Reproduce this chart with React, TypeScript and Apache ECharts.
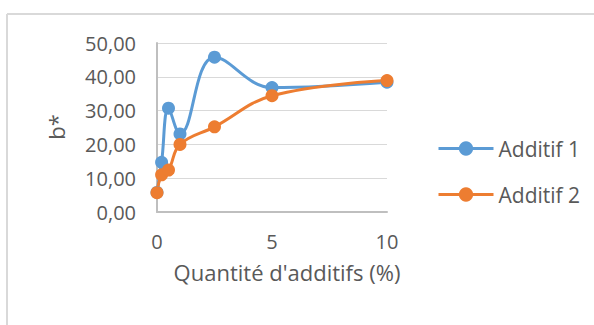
import React, { useEffect, useRef } from "react";
import * as echarts from "echarts";

const xValues = [0, 0.2, 0.5, 1, 2.5, 5, 10];
const additif1 = [5.8, 14.7, 30.7, 23.1, 45.8, 36.8, 38.4];
const additif2 = [5.7, 11.0, 12.4, 20.0, 25.2, 34.4, 38.9];
const seriesNames = ["Additif 1", "Additif 2"];
const xTitle = "Quantité d'additifs (%)";
const yTitle = "b*";

const FONT = "'Open Sans', 'Noto Sans', sans-serif";
const GREY = "#595959";

export default function App() {
  const ref = useRef<HTMLDivElement>(null);
  useEffect(() => {
    document.body.style.margin = "0";
    const chart = echarts.init(ref.current!, null, { renderer: "svg" });
    const mk = (vals: number[]) => xValues.map((x, i) => [x, vals[i]]);
    chart.setOption({
      animation: false,
      backgroundColor: "#ffffff",
      textStyle: { fontFamily: FONT },
      grid: { left: 157, right: 207, top: 43, bottom: 113 },
      xAxis: {
        type: "value",
        min: 0,
        max: 10,
        interval: 5,
        splitLine: { show: false },
        axisTick: { show: false },
        axisLine: { show: true, lineStyle: { color: "#bfbfbf", width: 2 } },
        axisLabel: { color: GREY, fontSize: 20, fontFamily: FONT, margin: 19 },
      },
      yAxis: {
        type: "value",
        min: 0,
        max: 50,
        interval: 10,
        splitLine: { show: true, lineStyle: { color: "#d9d9d9", width: 1 } },
        axisTick: { show: false },
        axisLine: { show: true, lineStyle: { color: "#bfbfbf", width: 2 } },
        axisLabel: {
          color: GREY,
          fontSize: 20,
          fontFamily: FONT,
          margin: 21,
          formatter: (v: number) => v.toFixed(2).replace(".", ","),
        },
      },
      legend: {
        orient: "vertical",
        left: 432,
        top: 133,
        itemWidth: 55,
        itemHeight: 18,
        itemGap: 25,
        lineStyle: { width: 3 },
        textStyle: { color: GREY, fontSize: 21, fontFamily: FONT, lineHeight: 20 },
        data: seriesNames,
      },
      series: [
        {
          name: seriesNames[0],
          type: "line",
          data: mk(additif1),
          smooth: 0.4,
          symbol: "circle",
          symbolSize: 13,
          showSymbol: true,
          color: "#5B9BD5",
          lineStyle: { width: 3, color: "#5B9BD5" },
          itemStyle: { color: "#5B9BD5" },
        },
        {
          name: seriesNames[1],
          type: "line",
          data: mk(additif2),
          smooth: 0.4,
          symbol: "circle",
          symbolSize: 13,
          showSymbol: true,
          color: "#ED7D31",
          lineStyle: { width: 3, color: "#ED7D31" },
          itemStyle: { color: "#ED7D31" },
        },
      ],
      graphic: [
        {
          type: "line",
          shape: { x1: 7, y1: 14, x2: 594, y2: 14 },
          style: { stroke: "#d9d9d9", lineWidth: 2 },
        },
        {
          type: "line",
          shape: { x1: 7, y1: 14, x2: 7, y2: 325 },
          style: { stroke: "#d9d9d9", lineWidth: 2 },
        },
        {
          type: "text",
          x: 287,
          y: 272,
          style: {
            text: xTitle,
            fill: GREY,
            font: `22px ${FONT}`,
            align: "center",
            verticalAlign: "middle",
          },
        },
        {
          type: "text",
          x: 56,
          y: 127,
          rotation: Math.PI / 2,
          style: {
            text: yTitle,
            fill: GREY,
            font: `22px ${FONT}`,
            align: "center",
            verticalAlign: "middle",
          },
        },
      ],
    });
    return () => chart.dispose();
  }, []);
  return <div ref={ref} style={{ width: 594, height: 325 }} />;
}
